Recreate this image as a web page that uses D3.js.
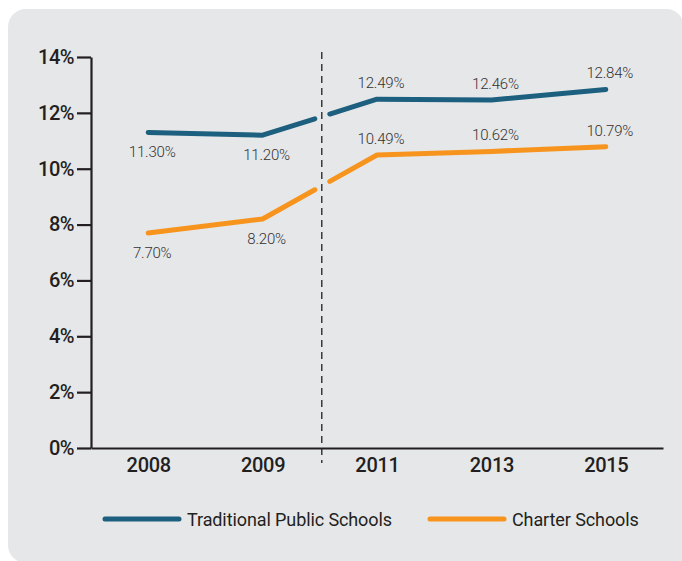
<!DOCTYPE html>
<html>
<head>
<meta charset="utf-8">
<script src="https://cdn.jsdelivr.net/npm/d3@7"></script>
<style>
  body { margin: 0; background: #fff; }
  svg text { font-family: Roboto, "Open Sans", sans-serif; }
</style>
</head>
<body>
<div id="chart"></div>
<script>
// data
var years = ["2008", "2009", "2011", "2013", "2015"];
var traditional = [11.30, 11.20, 12.49, 12.46, 12.84];
var charter = [7.70, 8.20, 10.49, 10.62, 10.79];
var yTicks = [0, 2, 4, 6, 8, 10, 12, 14];
var seriesNames = ["Traditional Public Schools", "Charter Schools"];
var seriesColors = ["#1d5f7e", "#f7941d"];

var width = 682, height = 561;
var plotLeft = 91, plotRight = 663, plotTop = 57, plotBottom = 448;
var breakAfter = 1; // gap drawn between 2009 and 2011

var svg = d3.select("#chart").append("svg")
    .attr("width", width)
    .attr("height", height);

// grey panel
svg.append("rect")
    .attr("x", 8).attr("y", 9)
    .attr("width", 676).attr("height", 554)
    .attr("rx", 18)
    .attr("fill", "#e6e7e9");
svg.append("rect")
    .attr("x", 640).attr("y", 520)
    .attr("width", 44).attr("height", 43)
    .attr("fill", "#e6e7e9");

var x = d3.scalePoint().domain(years).range([plotLeft, plotRight]).padding(0.5);
var y = d3.scaleLinear().domain([0, 14]).range([plotBottom, plotTop]);

// y axis
var yAxis = svg.append("g")
    .attr("transform", "translate(" + plotLeft + ",0)")
    .call(d3.axisLeft(y).tickValues(yTicks).tickSize(14).tickSizeOuter(0).tickPadding(3)
        .tickFormat(function(d){ return d + "%"; }));
yAxis.select(".domain").attr("stroke", "#231f20").attr("stroke-width", 2.2);
yAxis.selectAll(".tick line").attr("stroke", "#231f20").attr("stroke-width", 2.2);
yAxis.selectAll(".tick text")
    .attr("fill", "#231f20")
    .style("font-size", "20px")
    .style("font-weight", 500)
    .style("letter-spacing", "-0.5px");

// x axis
var xAxis = svg.append("g")
    .attr("transform", "translate(0," + plotBottom + ")")
    .call(d3.axisBottom(x).tickSize(0).tickSizeOuter(0).tickPadding(10));
xAxis.select(".domain").attr("stroke", "#231f20").attr("stroke-width", 2.2);
xAxis.selectAll(".tick text")
    .attr("fill", "#231f20")
    .style("font-size", "20px")
    .style("font-weight", 500)
    .style("letter-spacing", "-0.3px");

// dashed separator
var bx = (x(years[breakAfter]) + x(years[breakAfter + 1])) / 2 + 2;
svg.append("line")
    .attr("x1", bx).attr("x2", bx)
    .attr("y1", 52).attr("y2", 463)
    .attr("stroke", "#231f20")
    .attr("stroke-width", 1.3)
    .attr("stroke-dasharray", "7,5");

var line = d3.line().x(function(d){ return d[0]; }).y(function(d){ return d[1]; });

[traditional, charter].forEach(function(vals, si){
    var pts = vals.map(function(v, i){ return [x(years[i]), y(v)]; });
    var a = pts[breakAfter], b = pts[breakAfter + 1];
    function at(px){
        var t = (px - a[0]) / (b[0] - a[0]);
        return [px, a[1] + t * (b[1] - a[1])];
    }
    var seg1 = pts.slice(0, breakAfter + 1).concat([at(bx - 7)]);
    var seg2 = [at(bx + 8)].concat(pts.slice(breakAfter + 1));
    [seg1, seg2].forEach(function(seg){
        svg.append("path")
            .attr("d", line(seg))
            .attr("fill", "none")
            .attr("stroke", seriesColors[si])
            .attr("stroke-width", 5)
            .attr("stroke-linecap", "round")
            .attr("stroke-linejoin", "round");
    });

    // value labels: below before the break, above after it
    svg.selectAll(null)
        .data(vals)
        .enter().append("text")
        .attr("x", function(d, i){ return x(years[i]) + 4; })
        .attr("y", function(d, i){ return i <= breakAfter ? y(d) + 25 : y(d) - 11; })
        .attr("text-anchor", "middle")
        .attr("fill", "#333")
        .style("font-size", "15px")
        .style("font-weight", 300)
        .style("letter-spacing", "-0.2px")
        .text(function(d){ return d.toFixed(2) + "%"; });
});

// legend
var legendX = [105, 430];
seriesNames.forEach(function(name, i){
    var g = svg.append("g").attr("transform", "translate(" + legendX[i] + ",519)");
    g.append("line")
        .attr("x1", 0).attr("x2", 74)
        .attr("stroke", seriesColors[i])
        .attr("stroke-width", 5)
        .attr("stroke-linecap", "round");
    g.append("text")
        .attr("x", 82).attr("y", 6.5)
        .attr("fill", "#231f20")
        .style("font-size", "18px")
        .style("font-weight", 400)
        .style("letter-spacing", "-0.1px")
        .text(name);
});
</script>
</body>
</html>
